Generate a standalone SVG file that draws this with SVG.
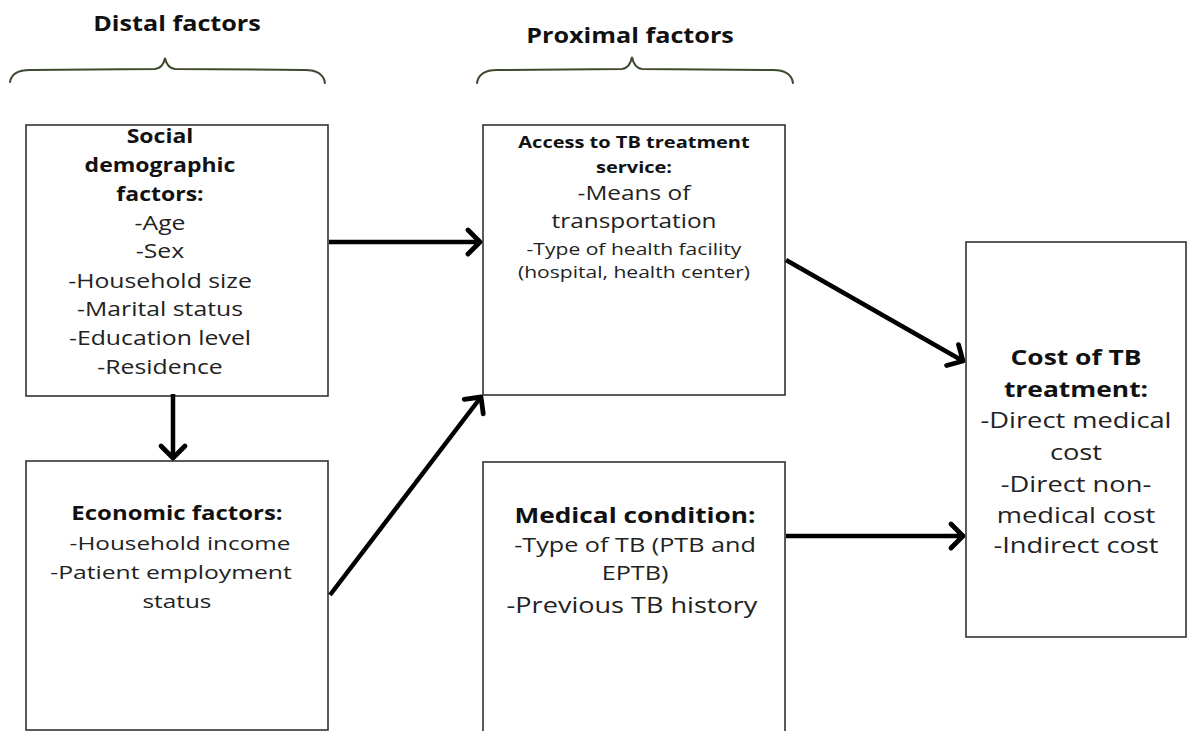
<svg xmlns="http://www.w3.org/2000/svg" width="1187" height="731" viewBox="0 0 1187 731">
<defs>
<marker id="chev" markerUnits="userSpaceOnUse" viewBox="-16 -16 32 32" markerWidth="32" markerHeight="32" refX="0" refY="0" orient="auto">
<path d="M-12,-12 L0,0 L-12,12" fill="none" stroke="#000" stroke-width="4.8" stroke-linecap="round" stroke-linejoin="round"/>
</marker>
<style>
.box{fill:#fff;stroke:#333;stroke-width:1.6}
.brace{fill:none;stroke:#3d4a2e;stroke-width:2;stroke-linecap:round}
.conn{fill:none;stroke:#000;stroke-width:4.5;marker-end:url(#chev)}
text{font-family:"Open Sans","Liberation Sans",sans-serif;text-anchor:middle;fill:#222}
.b{font-weight:bold;fill:#111}
.title{font-size:21px;font-weight:bold;fill:#111}
</style>
</defs>
<rect width="1187" height="731" fill="#fff"/>
<g id="distal-header">
<text class="title" transform="translate(177 31) scale(1.2 1)">Distal factors</text>
<path class="brace" d="M10,82 Q12,70 30,70 L155,69 Q163,68 165,58 Q167,68 175,69 L305,70 Q323,70 325,83"/>
</g>
<g id="proximal-header">
<text class="title" transform="translate(630 43) scale(1.2 1)">Proximal factors</text>
<path class="brace" d="M477,83 Q479,70 497,70 L622,69 Q630,68 632,57 Q634,68 642,69 L773,70 Q791,70 793,83"/>
</g>
<g id="social">
<rect class="box" x="26" y="125" width="302" height="271"/>
<g font-size="20">
<text class="b" transform="translate(160 143) scale(1.15 1)">Social</text>
<text class="b" transform="translate(160 172) scale(1.15 1)">demographic</text>
<text class="b" transform="translate(160 201) scale(1.15 1)">factors:</text>
<text transform="translate(160 230) scale(1.24 1)">-Age</text>
<text transform="translate(160 258) scale(1.24 1)">-Sex</text>
<text transform="translate(160 288) scale(1.24 1)">-Household size</text>
<text transform="translate(160 316) scale(1.24 1)">-Marital status</text>
<text transform="translate(160 345) scale(1.24 1)">-Education level</text>
<text transform="translate(160 374) scale(1.24 1)">-Residence</text>
</g>
</g>
<g id="economic">
<rect class="box" x="26" y="461" width="302" height="269"/>
<g font-size="19">
<text class="b" transform="translate(177 520) scale(1.26 1)">Economic factors:</text>
<text transform="translate(180 550) scale(1.28 1)">-Household income</text>
<text transform="translate(171 579) scale(1.3 1)">-Patient employment</text>
<text transform="translate(177 608) scale(1.28 1)">status</text>
</g>
</g>
<g id="access">
<rect class="box" x="483" y="125" width="302" height="270"/>
<text class="b" font-size="16" transform="translate(634 148) scale(1.25 1)">Access to TB treatment</text>
<text class="b" font-size="16" transform="translate(634 173) scale(1.25 1)">service:</text>
<text font-size="20" transform="translate(634 200) scale(1.22 1)">-Means of</text>
<text font-size="20" transform="translate(634 228) scale(1.22 1)">transportation</text>
<text font-size="17" transform="translate(634 255) scale(1.24 1)">-Type of health facility</text>
<text font-size="17" transform="translate(634 278) scale(1.24 1)">(hospital, health center)</text>
</g>
<g id="medical">
<rect class="box" x="483" y="462" width="302" height="275"/>
<text class="b" font-size="21" transform="translate(635 523) scale(1.25 1)">Medical condition:</text>
<text font-size="20" transform="translate(635 552) scale(1.26 1)">-Type of TB (PTB and</text>
<text font-size="20" transform="translate(635 580) scale(1.26 1)">EPTB)</text>
<text font-size="21" transform="translate(632 613) scale(1.29 1)">-Previous TB history</text>
</g>
<g id="cost">
<rect class="box" x="966" y="242" width="220" height="395"/>
<g font-size="22">
<text class="b" transform="translate(1076 365) scale(1.2 1)">Cost of TB</text>
<text class="b" transform="translate(1076 397) scale(1.2 1)">treatment:</text>
<text transform="translate(1076 428) scale(1.24 1)">-Direct medical</text>
<text transform="translate(1076 460) scale(1.24 1)">cost</text>
<text transform="translate(1076 492) scale(1.24 1)">-Direct non-</text>
<text transform="translate(1076 523) scale(1.24 1)">medical cost</text>
<text transform="translate(1076 553) scale(1.24 1)">-Indirect cost</text>
</g>
</g>
<g id="connectors">
<line class="conn" x1="329" y1="242" x2="480" y2="242"/>
<line class="conn" x1="173" y1="394" x2="173" y2="458"/>
<line class="conn" x1="330" y1="595" x2="481" y2="397"/>
<line class="conn" x1="786" y1="260" x2="963" y2="361"/>
<line class="conn" x1="786" y1="536" x2="963" y2="536"/>
</g>
</svg>
